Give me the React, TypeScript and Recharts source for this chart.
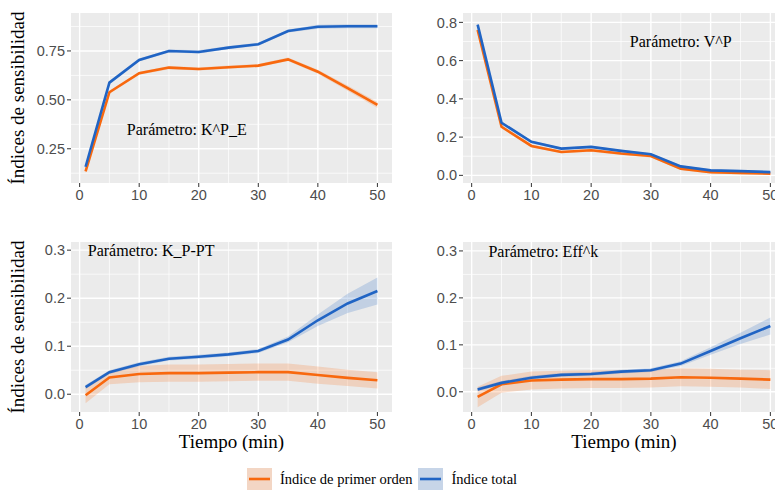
import { Area, CartesianGrid, ComposedChart, Line, ReferenceDot, XAxis, YAxis } from "recharts";

// Tiempos muestreados (min)
const TIEMPO = [1, 5, 10, 15, 20, 25, 30, 35, 40, 45, 50];
const X_TICKS = [0, 10, 20, 30, 40, 50];
const X_MINOR = [5, 15, 25, 35, 45];

// Parámetro K^P_E
const KPE_PRIMER = [0.134, 0.539, 0.636, 0.665, 0.658, 0.667, 0.675, 0.707, 0.644, 0.56, 0.474];
const KPE_PRIMER_ERR = [0.008, 0.008, 0.008, 0.008, 0.008, 0.008, 0.008, 0.009, 0.01, 0.013, 0.015];
const KPE_TOTAL = [0.158, 0.588, 0.704, 0.75, 0.745, 0.767, 0.784, 0.852, 0.874, 0.876, 0.876];
const KPE_TOTAL_ERR = [0.01, 0.008, 0.008, 0.008, 0.008, 0.008, 0.008, 0.008, 0.01, 0.01, 0.01];

// Parámetro V^P
const VP_PRIMER = [0.76, 0.254, 0.154, 0.122, 0.131, 0.114, 0.101, 0.035, 0.017, 0.012, 0.009];
const VP_PRIMER_ERR = [0.008, 0.008, 0.007, 0.007, 0.007, 0.007, 0.007, 0.007, 0.007, 0.007, 0.007];
const VP_TOTAL = [0.788, 0.275, 0.175, 0.14, 0.149, 0.128, 0.11, 0.047, 0.026, 0.022, 0.017];
const VP_TOTAL_ERR = [0.01, 0.008, 0.007, 0.006, 0.006, 0.006, 0.006, 0.006, 0.006, 0.006, 0.006];

// Parámetro K_P-PT
const KPPT_PRIMER = [-0.002, 0.035, 0.042, 0.044, 0.044, 0.045, 0.046, 0.046, 0.04, 0.034, 0.029];
const KPPT_PRIMER_ERR = [0.017, 0.014, 0.017, 0.018, 0.018, 0.018, 0.018, 0.018, 0.018, 0.017, 0.017];
const KPPT_TOTAL = [0.015, 0.046, 0.0625, 0.074, 0.078, 0.083, 0.09, 0.114, 0.154, 0.189, 0.215];
const KPPT_TOTAL_ERR = [0.004, 0.004, 0.004, 0.004, 0.004, 0.004, 0.004, 0.006, 0.012, 0.02, 0.028];

// Parámetro Eff^k
const EFF_PRIMER = [-0.011, 0.016, 0.024, 0.026, 0.027, 0.027, 0.028, 0.031, 0.03, 0.028, 0.026];
const EFF_PRIMER_ERR = [0.022, 0.018, 0.019, 0.019, 0.019, 0.019, 0.019, 0.019, 0.019, 0.019, 0.02];
const EFF_TOTAL = [0.005, 0.019, 0.03, 0.036, 0.038, 0.043, 0.046, 0.06, 0.087, 0.114, 0.14];
const EFF_TOTAL_ERR = [0.004, 0.004, 0.004, 0.004, 0.004, 0.004, 0.004, 0.005, 0.008, 0.012, 0.018];

const Y_TICKS_KPE = [0.25, 0.5, 0.75];
const Y_MINOR_KPE = [0.125, 0.375, 0.625, 0.875];
const Y_TICKS_VP = [0, 0.2, 0.4, 0.6, 0.8];
const Y_MINOR_VP = [0.1, 0.3, 0.5, 0.7];
const Y_TICKS_BAJO = [0, 0.1, 0.2, 0.3];
const Y_MINOR_BAJO = [0.05, 0.15, 0.25];

const ORANGE = "#F8680E";
const BLUE = "#2064C4";
const SERIF = "'Liberation Serif', 'Times New Roman', serif";
const SANS = "'Liberation Sans', Arial, sans-serif";

type PanelProps = {
  left: number;
  top: number;
  width: number;
  right: number;
  yAxisWidth: number;
  primer: number[];
  primerErr: number[];
  total: number[];
  totalErr: number[];
  yDomain: [number, number];
  yTicks: number[];
  yMinor: number[];
  decimals: number;
  note: string;
  noteX: number;
  noteY: number;
};

function Panel(p: PanelProps) {
  const data = TIEMPO.map((t, i) => ({
    t,
    primer: p.primer[i],
    total: p.total[i],
    primerBand: [p.primer[i] - p.primerErr[i], p.primer[i] + p.primerErr[i]],
    totalBand: [p.total[i] - p.totalErr[i], p.total[i] + p.totalErr[i]],
  }));
  const tick = { fill: "#4D4D4D", fontSize: 14.5, fontFamily: SANS };
  return (
    <div style={{ position: "absolute", left: p.left, top: p.top }}>
      <ComposedChart
        width={p.width}
        height={215}
        data={data}
        margin={{ top: 13, right: p.right, bottom: 0, left: 0 }}
      >
        <CartesianGrid
          fill="#EBEBEB"
          stroke="#FFFFFF"
          strokeWidth={0.7}
          horizontalValues={p.yMinor}
          verticalValues={X_MINOR}
        />
        <CartesianGrid
          stroke="#FFFFFF"
          strokeWidth={1.4}
          horizontalValues={p.yTicks}
          verticalValues={X_TICKS}
        />
        <XAxis
          type="number"
          dataKey="t"
          domain={[-1.45, 52.45]}
          ticks={X_TICKS}
          allowDataOverflow
          axisLine={false}
          tickLine={{ stroke: "#333333" }}
          tickSize={4}
          tickMargin={3}
          tick={tick}
          height={32}
        />
        <YAxis
          type="number"
          domain={p.yDomain}
          ticks={p.yTicks}
          allowDataOverflow
          axisLine={false}
          tickLine={{ stroke: "#333333" }}
          tickSize={4}
          tickMargin={2}
          tick={tick}
          width={p.yAxisWidth}
          tickFormatter={(v: number) => v.toFixed(p.decimals)}
        />
        <Area
          dataKey="primerBand"
          type="linear"
          stroke="none"
          fill={ORANGE}
          fillOpacity={0.2}
          activeDot={false}
          isAnimationActive={false}
        />
        <Area
          dataKey="totalBand"
          type="linear"
          stroke="none"
          fill={BLUE}
          fillOpacity={0.2}
          activeDot={false}
          isAnimationActive={false}
        />
        <Line
          dataKey="primer"
          type="linear"
          stroke={ORANGE}
          strokeWidth={2.6}
          dot={false}
          activeDot={false}
          isAnimationActive={false}
        />
        <Line
          dataKey="total"
          type="linear"
          stroke={BLUE}
          strokeWidth={2.6}
          dot={false}
          activeDot={false}
          isAnimationActive={false}
        />
        <ReferenceDot
          x={p.noteX}
          y={p.noteY}
          r={1}
          fill="none"
          stroke="none"
          label={{ value: p.note, position: "center", fill: "#000000", fontSize: 16, fontFamily: SERIF }}
        />
      </ComposedChart>
    </div>
  );
}

function YTitle({ cy }: { cy: number }) {
  return (
    <div
      style={{
        position: "absolute",
        left: 18,
        top: cy,
        transform: "translate(-50%, -50%) rotate(-90deg)",
        whiteSpace: "nowrap",
        fontFamily: SERIF,
        fontSize: 19,
        color: "#000",
      }}
    >
      Índices de sensibilidad
    </div>
  );
}

function XTitle({ cx }: { cx: number }) {
  return (
    <div
      style={{
        position: "absolute",
        left: cx,
        top: 442,
        transform: "translate(-50%, -50%)",
        whiteSpace: "nowrap",
        fontFamily: SERIF,
        fontSize: 19,
        color: "#000",
      }}
    >
      Tiempo (min)
    </div>
  );
}

function LegendKey({ color }: { color: string }) {
  return (
    <svg width={25} height={22} style={{ display: "block" }}>
      <rect x={0} y={0} width={25} height={22} fill="#F2F2F2" />
      <rect x={0} y={0} width={25} height={22} fill={color} fillOpacity={0.2} />
      <line x1={2} x2={23} y1={11} y2={11} stroke={color} strokeWidth={2.6} />
    </svg>
  );
}

export default function App() {
  return (
    <div
      style={{
        position: "absolute",
        left: 0,
        top: 0,
        width: 775,
        height: 494,
        overflow: "hidden",
        background: "#FFFFFF",
      }}
    >
      <Panel
        left={0}
        top={0}
        width={395}
        right={3}
        yAxisWidth={71}
        primer={KPE_PRIMER}
        primerErr={KPE_PRIMER_ERR}
        total={KPE_TOTAL}
        totalErr={KPE_TOTAL_ERR}
        yDomain={[0.075, 0.944]}
        yTicks={Y_TICKS_KPE}
        yMinor={Y_MINOR_KPE}
        decimals={2}
        note="Parámetro: K^P_E"
        noteX={18}
        noteY={0.35}
      />
      <Panel
        left={390}
        top={0}
        width={400}
        right={5}
        yAxisWidth={73}
        primer={VP_PRIMER}
        primerErr={VP_PRIMER_ERR}
        total={VP_TOTAL}
        totalErr={VP_TOTAL_ERR}
        yDomain={[-0.04, 0.849]}
        yTicks={Y_TICKS_VP}
        yMinor={Y_MINOR_VP}
        decimals={1}
        note="Parámetro: V^P"
        noteX={35}
        noteY={0.7}
      />
      <Panel
        left={0}
        top={229}
        width={395}
        right={3}
        yAxisWidth={71}
        primer={KPPT_PRIMER}
        primerErr={KPPT_PRIMER_ERR}
        total={KPPT_TOTAL}
        totalErr={KPPT_TOTAL_ERR}
        yDomain={[-0.037, 0.317]}
        yTicks={Y_TICKS_BAJO}
        yMinor={Y_MINOR_BAJO}
        decimals={1}
        note="Parámetro: K_P-PT"
        noteX={12}
        noteY={0.3}
      />
      <Panel
        left={390}
        top={229}
        width={400}
        right={5}
        yAxisWidth={73}
        primer={EFF_PRIMER}
        primerErr={EFF_PRIMER_ERR}
        total={EFF_TOTAL}
        totalErr={EFF_TOTAL_ERR}
        yDomain={[-0.043, 0.319]}
        yTicks={Y_TICKS_BAJO}
        yMinor={Y_MINOR_BAJO}
        decimals={1}
        note="Parámetro: Eff^k"
        noteX={12}
        noteY={0.3}
      />
      <YTitle cy={98} />
      <YTitle cy={327} />
      <XTitle cx={231.5} />
      <XTitle cx={624} />
      <div
        style={{
          position: "absolute",
          left: 247,
          top: 468,
          display: "flex",
          alignItems: "center",
          fontFamily: SERIF,
          fontSize: 14.5,
          color: "#000",
          whiteSpace: "nowrap",
        }}
      >
        <LegendKey color={ORANGE} />
        <span style={{ marginLeft: 8, marginRight: 6 }}>Índice de primer orden</span>
        <LegendKey color={BLUE} />
        <span style={{ marginLeft: 8 }}>Índice total</span>
      </div>
    </div>
  );
}
